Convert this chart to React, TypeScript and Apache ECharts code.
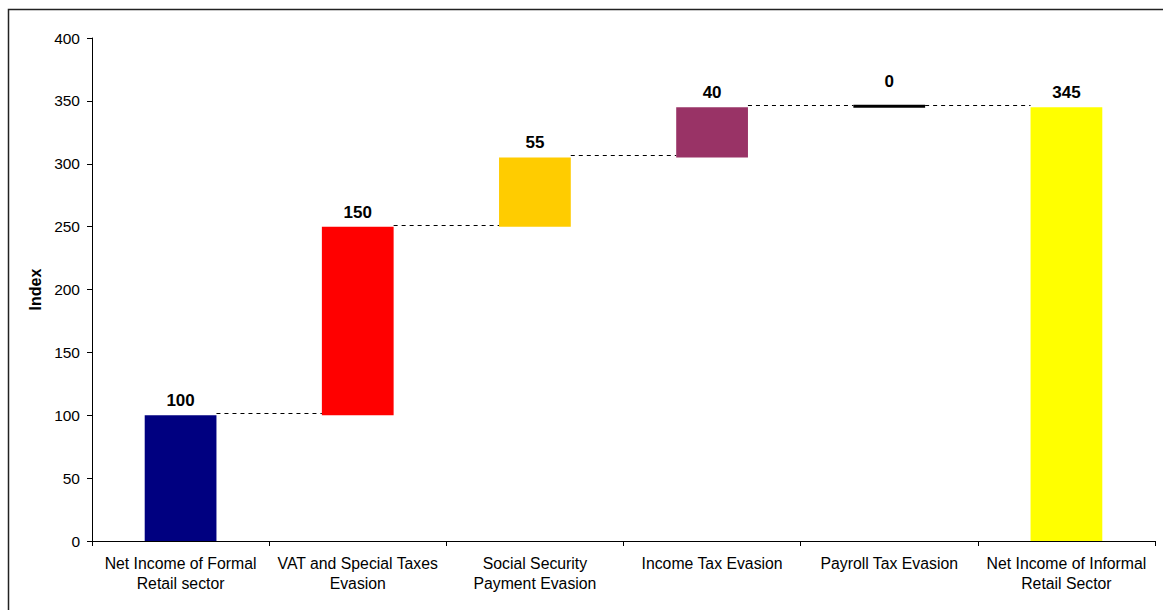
import React, { useEffect, useRef } from "react";
import * as echarts from "echarts";

const categories = [
  "Net Income of Formal\nRetail sector",
  "VAT and Special Taxes\nEvasion",
  "Social Security\nPayment Evasion",
  "Income Tax Evasion",
  "Payroll Tax Evasion",
  "Net Income of Informal\nRetail Sector",
];
const bases = [0, 100, 250, 305, 345, 0];
const values = [100, 150, 55, 40, 0, 345];
const colors = ["#000080", "#FF0000", "#FFCC00", "#993366", "#000000", "#FFFF00"];
const yTicks = { min: 0, max: 400, interval: 50 };

export default function App() {
  const ref = useRef<HTMLDivElement>(null);
  useEffect(() => {
    document.body.style.margin = "0";
    const chart = echarts.init(ref.current!, null, { renderer: "svg" });
    const n = categories.length;
    chart.setOption({
      animation: false,
      backgroundColor: "#ffffff",
      graphic: [
        {
          type: "rect",
          shape: { x: 8.5, y: 9.5, width: 1200, height: 700 },
          style: { fill: "none", stroke: "#222", lineWidth: 1.5 },
          silent: true,
          z: 100,
        },
      ],
      grid: { left: 92, right: 8, top: 38, bottom: 69, containLabel: false },
      xAxis: {
        type: "category",
        data: categories,
        axisLine: { lineStyle: { color: "#000", width: 1 } },
        axisTick: { show: true, alignWithLabel: false, length: 5, lineStyle: { color: "#000" } },
        axisLabel: {
          color: "#000",
          fontFamily: "Liberation Sans, Arial, sans-serif",
          fontSize: 15.8,
          lineHeight: 20,
          margin: 12,
          interval: 0,
        },
        splitLine: { show: false },
      },
      yAxis: {
        type: "value",
        min: yTicks.min,
        max: yTicks.max,
        interval: yTicks.interval,
        name: "Index",
        nameLocation: "middle",
        nameGap: 47,
        nameTextStyle: {
          color: "#000",
          fontWeight: "bold",
          fontSize: 16,
          fontFamily: "Liberation Sans, Arial, sans-serif",
        },
        axisLine: { show: true, lineStyle: { color: "#000", width: 1 } },
        axisTick: { show: true, length: 5, lineStyle: { color: "#000" } },
        axisLabel: {
          color: "#000",
          fontFamily: "Liberation Sans, Arial, sans-serif",
          fontSize: 15.5,
          margin: 12,
        },
        splitLine: { show: false },
      },
      series: [
        {
          type: "custom",
          data: values.map((v, i) => [i, bases[i], v]),
          encode: { x: 0, y: [1, 2] },
          renderItem: (params: any, api: any) => {
            const i = api.value(0);
            const base = api.value(1);
            const val = api.value(2);
            const bw = api.size([1, 0])[0] * 0.405;
            const top = api.coord([i, base + val]);
            const bot = api.coord([i, base]);
            const children: any[] = [];
            if (val === 0) {
              children.push({
                type: "line",
                shape: { x1: top[0] - bw / 2, y1: top[1] - 1, x2: top[0] + bw / 2, y2: top[1] - 1 },
                style: { stroke: colors[i], lineWidth: 3 },
              });
            } else {
              children.push({
                type: "rect",
                shape: { x: top[0] - bw / 2, y: top[1], width: bw, height: bot[1] - top[1] },
                style: { fill: colors[i] },
              });
            }
            children.push({
              type: "text",
              x: top[0],
              y: top[1] - (val === 0 ? 17 : 6),
              style: {
                text: String(val),
                align: "center",
                verticalAlign: "bottom",
                font: "bold 17px 'Liberation Sans', Arial, sans-serif",
                fill: "#000",
              },
            });
            if (i < n - 1) {
              const nextTop = base + val;
              const p = api.coord([i, nextTop]);
              const nx = api.coord([i + 1, nextTop])[0];
              const y = Math.round(p[1] - 2) + 0.5;
              children.push({
                type: "line",
                shape: { x1: p[0] + bw / 2, y1: y, x2: nx - bw / 2, y2: y },
                style: { stroke: "#000", lineWidth: 1, lineDash: [4, 4] },
              });
            }
            return { type: "group", children };
          },
        },
      ],
    });
    return () => chart.dispose();
  }, []);
  return <div ref={ref} style={{ width: 1163, height: 610 }} />;
}
